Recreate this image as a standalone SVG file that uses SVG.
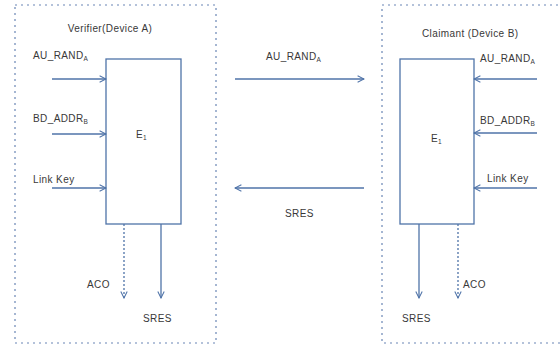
<svg xmlns="http://www.w3.org/2000/svg" width="560" height="349" viewBox="0 0 560 349">
<defs>
<marker id="arr" viewBox="0 0 10 10" refX="9" refY="5" markerWidth="8" markerHeight="8" markerUnits="userSpaceOnUse" orient="auto">
<path d="M1,1 L9,5 L1,9" fill="none" stroke="#4f73a8" stroke-width="1.3"/>
</marker>
</defs>
<style>
.box{fill:none;stroke:#6a86b5;stroke-width:1.2;stroke-dasharray:2 4}
.blk{fill:#fff;stroke:#4f73a8;stroke-width:1.3}
.ln{fill:none;stroke:#4f73a8;stroke-width:1.3;marker-end:url(#arr)}
.dot{fill:none;stroke:#4f73a8;stroke-width:1.3;stroke-dasharray:2 2;marker-end:url(#arr)}
text{font-family:"Liberation Sans",Arial,sans-serif;font-size:10px;fill:#383838;letter-spacing:0.4px}
.sub{font-size:6.5px}
</style>
<rect width="560" height="349" fill="#fff"/>
<g id="deviceA">
<rect class="box" x="15" y="5" width="201" height="338"/>
<text x="110" y="32" text-anchor="middle">Verifier(Device A)</text>
</g>
<g id="deviceB">
<rect class="box" x="382" y="5" width="190" height="338"/>
<text x="422" y="37">Claimant (Device B)</text>
</g>
<g id="e1A">
<rect class="blk" x="106" y="59" width="75" height="165"/>
<text x="136" y="138">E<tspan class="sub" dy="2">1</tspan></text>
</g>
<g id="e1B">
<rect class="blk" x="400" y="59" width="74" height="165"/>
<text x="431" y="142">E<tspan class="sub" dy="2">1</tspan></text>
</g>
<g id="connectors">
<line class="ln" x1="52" y1="79" x2="106" y2="79"/>
<line class="ln" x1="52" y1="134" x2="106" y2="134"/>
<line class="ln" x1="52" y1="188" x2="106" y2="188"/>
<line class="dot" x1="124" y1="224" x2="124" y2="298"/>
<line class="ln" x1="161" y1="224" x2="161" y2="298"/>
<line class="ln" x1="235" y1="79" x2="364" y2="79"/>
<line class="ln" x1="364" y1="188" x2="235" y2="188"/>
<line class="ln" x1="537" y1="79" x2="474" y2="79"/>
<line class="ln" x1="537" y1="133" x2="474" y2="133"/>
<line class="ln" x1="537" y1="188" x2="474" y2="188"/>
<line class="ln" x1="419" y1="224" x2="419" y2="298"/>
<line class="dot" x1="458" y1="224" x2="458" y2="298"/>
</g>
<g id="labels">
<text x="33" y="59">AU_RAND<tspan class="sub" dy="2">A</tspan></text>
<text x="33" y="122">BD_ADDR<tspan class="sub" dy="2">B</tspan></text>
<text x="33" y="183">Link Key</text>
<text x="87" y="288">ACO</text>
<text x="143" y="322">SRES</text>
<text x="266" y="60">AU_RAND<tspan class="sub" dy="2">A</tspan></text>
<text x="285" y="217">SRES</text>
<text x="480" y="62">AU_RAND<tspan class="sub" dy="2">A</tspan></text>
<text x="480" y="124">BD_ADDR<tspan class="sub" dy="2">B</tspan></text>
<text x="487" y="182">Link Key</text>
<text x="463" y="288">ACO</text>
<text x="402" y="322">SRES</text>
</g>
</svg>
